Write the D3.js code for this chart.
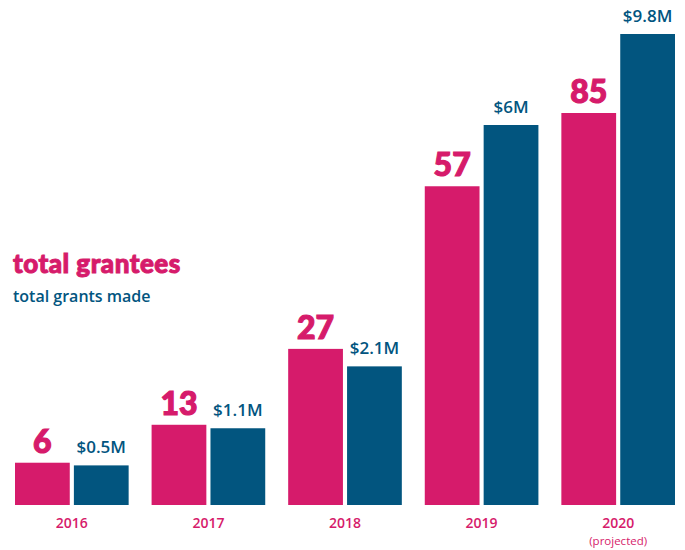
<!DOCTYPE html>
<html>
<head>
<meta charset="utf-8">
<script src="https://cdn.jsdelivr.net/npm/d3@7"></script>
<style>
  body { margin: 0; background: #fff; }
  .heavy { font-family: "Lato Black", "Lato Heavy", Lato, sans-serif; font-weight: 900; }
</style>
</head>
<body>
<div id="myVis"></div>
<script>
var width = 685, height = 550,
    baseline = 505

const years = ["2016", "2017", "2018", "2019", "2020"]
const grantees = [6, 13, 27, 57, 85]
const grantsMade = [0.5, 1.1, 2.1, 6, 9.8]
const grantLabels = ["$0.5M", "$1.1M", "$2.1M", "$6M", "$9.8M"]
const yearNotes = ["", "", "", "", "(projected)"]

const pink = "#d61b6b", blue = "#02557f"

const svg = d3.select("#myVis")
    .append("svg")
        .attr("width", width)
        .attr("height", height)

// one band per year, two bars inside
var x0 = d3.scaleBand()
    .domain(years)
    .range([15, 675])
    .paddingInner(0.168)

var x1 = d3.scaleBand()
    .domain(["grantees", "grants"])
    .range([0, x0.bandwidth()])
    .paddingInner(0.07)

// each series has its own scale; the top segment is squeezed
// (the original shortens the projected 2020 bars)
var yPink = d3.scaleLinear()
    .domain([-1.8, 60, 85])
    .range([baseline, 170, 113])

var yBlue = d3.scaleLinear()
    .domain([-0.14, 6, 9.8])
    .range([baseline, 125, 34])

const rows = years.map((y, i) => ({year: y, g: grantees[i], m: grantsMade[i], label: grantLabels[i], note: yearNotes[i]}))

const groups = svg.selectAll("g.year")
    .data(rows)
    .enter()
    .append("g")
        .attr("class", "year")
        .attr("transform", d => "translate(" + x0(d.year) + ",0)")

groups.append("rect")
    .attr("x", x1("grantees"))
    .attr("y", d => yPink(d.g))
    .attr("width", x1.bandwidth())
    .attr("height", d => baseline - yPink(d.g))
    .attr("fill", pink)

groups.append("rect")
    .attr("x", x1("grants"))
    .attr("y", d => yBlue(d.m))
    .attr("width", x1.bandwidth())
    .attr("height", d => baseline - yBlue(d.m))
    .attr("fill", blue)

// value labels
groups.append("text")
    .attr("class", "heavy")
    .attr("x", x1("grantees") + x1.bandwidth() / 2)
    .attr("y", d => yPink(d.g) - 10)
    .attr("text-anchor", "middle")
    .style("font-size", "32px")
    .attr("fill", pink)
    .attr("stroke", pink)
    .attr("stroke-width", 1.2)
    .text(d => d.g)

groups.append("text")
    .attr("x", x1("grants") + x1.bandwidth() / 2)
    .attr("y", d => yBlue(d.m) - 12)
    .attr("text-anchor", "middle")
    .style("font-family", "Open Sans")
    .style("font-weight", 600)
    .style("font-size", "17px")
    .attr("fill", blue)
    .text(d => d.label)

// year labels
groups.append("text")
    .attr("x", x0.bandwidth() / 2)
    .attr("y", 528)
    .attr("text-anchor", "middle")
    .style("font-family", "Open Sans")
    .style("font-weight", 600)
    .style("font-size", "14px")
    .attr("fill", pink)
    .text(d => d.year)

groups.append("text")
    .attr("x", x0.bandwidth() / 2)
    .attr("y", 545)
    .attr("text-anchor", "middle")
    .style("font-family", "Open Sans")
    .style("font-size", "11.5px")
    .attr("fill", pink)
    .text(d => d.note)

// legend
svg.append("text")
    .attr("class", "heavy")
    .attr("x", 13)
    .attr("y", 273)
    .style("font-size", "26px")
    .style("letter-spacing", "0.5px")
    .attr("fill", pink)
    .attr("stroke", pink)
    .attr("stroke-width", 1)
    .text("total grantees")

svg.append("text")
    .attr("x", 13)
    .attr("y", 302)
    .style("font-family", "Open Sans")
    .style("font-weight", 600)
    .style("font-size", "16px")
    .attr("fill", blue)
    .text("total grants made")
</script>
</body>
</html>
